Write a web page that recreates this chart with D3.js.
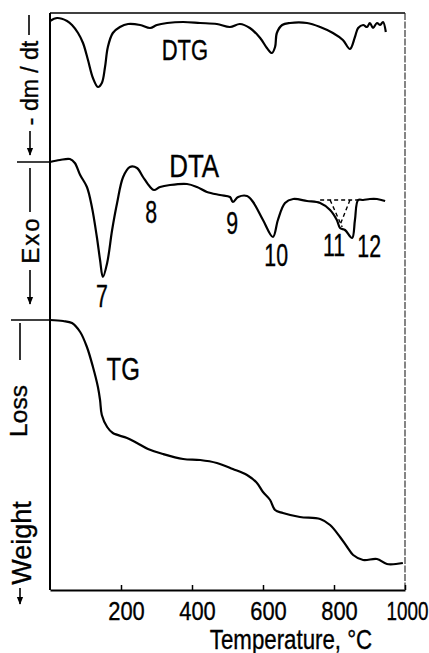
<!DOCTYPE html>
<html>
<head>
<meta charset="utf-8">
<script src="https://cdn.jsdelivr.net/npm/d3@7.9.0/dist/d3.min.js"></script>
<style>
  body { margin: 0; background: #fff; }
  svg { display: block; }
  text { font-family: "Liberation Sans", Arial, sans-serif; fill: #000; stroke: #000; stroke-width: 0.35; }
</style>
</head>
<body>
<svg id="chart" width="429" height="653"></svg>
<script>
// temperature (°C) and signal values (arbitrary units)
const dtgTemp = [0, 20, 48, 62, 79, 93, 107, 121, 135, 146, 155, 163, 177, 197, 220, 254, 282, 301, 330, 375, 423, 470, 507, 535, 563, 592, 611, 625, 634, 639, 654, 676, 724, 761, 797, 825, 845, 859, 868, 882, 893, 901, 910, 921, 930, 938, 946];
const dtgValue = [1, 4, 1, -3, -11, -21, -38, -56, -65, -61, -45, -25, -11, -5, -2, -3, -6, -3, -1, 0, -1, -2, -5, -2, -6, -16, -26, -31, -25, -11, -3, -1, -1, -5, -11, -18, -27, -15, -6, -3, -5, -1, -6, -1, -3, 0, -10];

const dtaTemp = [0, 28, 56, 70, 85, 104, 118, 132, 141, 149, 161, 175, 189, 206, 225, 245, 262, 282, 293, 310, 338, 386, 414, 442, 479, 507, 515, 530, 555, 572, 600, 628, 642, 662, 685, 724, 761, 789, 808, 817, 831, 851, 859, 868, 882, 901, 921, 944];
const dtaValue = [0, 2, 3, -1, -13, -25, -45, -75, -98, -115, -101, -68, -41, -15, -5, -6, -15, -25, -28, -25, -23, -22, -25, -30, -33, -35, -40, -35, -34, -40, -58, -75, -58, -41, -37, -39, -41, -48, -58, -66, -68, -76, -58, -38, -38, -37, -37, -39];

const tgTemp = [0, 37, 62, 85, 104, 121, 135, 141, 146, 161, 177, 217, 245, 276, 318, 375, 423, 470, 515, 555, 583, 600, 620, 634, 656, 704, 761, 789, 817, 837, 854, 882, 921, 949, 994];
const tgValue = [0, -1, -3, -12, -27, -47, -67, -80, -95, -107, -113, -118, -123, -129, -134, -139, -140, -143, -149, -155, -163, -172, -180, -190, -193, -197, -199, -205, -217, -227, -235, -240, -239, -244, -243];

// dashed construction lines separating peaks 11 and 12 on the DTA curve
const dtaDashed = [
  [[761, -38], [870, -38]],
  [[789, -38], [823, -65]],
  [[845, -38], [817, -63]]
];

const tempTicks = [200, 400, 600, 800, 1000];
const peakLabels = ["7", "8", "9", "10", "11", "12"];
const peakTemp = [146, 285, 513, 637, 800, 899];
const peakValue = [-134, -50, -61, -93, -83, -84];

const svg = d3.select("#chart");
const frameL = 50, frameR = 405, frameT = 13, frameB = 590;

const x = d3.scaleLinear().domain([0, 1000]).range([frameL, frameR]);
const yDTG = d3.scaleLinear().domain([-80, 10]).range([102, 12]);
const yDTA = d3.scaleLinear().domain([-130, 10]).range([292, 152]);
const yTG = d3.scaleLinear().domain([-260, 10]).range([580, 310]);

svg.append("defs").append("marker")
  .attr("id", "head")
  .attr("viewBox", "0 0 10 10")
  .attr("refX", 9).attr("refY", 5)
  .attr("markerWidth", 5).attr("markerHeight", 6)
  .attr("orient", "auto")
  .append("path").attr("d", "M0,1L10,5L0,9Z").attr("fill", "#000");

// frame
svg.append("line").attr("x1", frameL).attr("x2", frameL).attr("y1", frameT).attr("y2", frameB)
  .attr("stroke", "#000").attr("stroke-width", 2);
svg.append("line").attr("x1", frameL).attr("x2", frameR).attr("y1", frameT).attr("y2", frameT)
  .attr("stroke", "#000").attr("stroke-width", 1.4);
svg.append("line").attr("x1", frameR).attr("x2", frameR).attr("y1", frameT).attr("y2", frameB)
  .attr("stroke", "#222").attr("stroke-width", 1.1).attr("stroke-dasharray", "7,1.5");

const xAxis = svg.append("g")
  .attr("transform", `translate(0,${frameB})`)
  .call(d3.axisBottom(x).tickValues(tempTicks).tickFormat(d3.format("d"))
    .tickSizeInner(-5).tickSizeOuter(0).tickPadding(12));
xAxis.attr("font-family", null).attr("font-size", null);
xAxis.select(".domain").attr("stroke-width", 2.2);
xAxis.selectAll(".tick line").attr("stroke-width", 1.5);
xAxis.selectAll("text").attr("font-size", 25.5)
  .attr("transform", d => d === 1000 ? "translate(2,0) scale(0.74,1)" : "translate(5,0) scale(0.86,1)");

// narrow lettering: scale text horizontally around its anchor
function label(txt, cx, cy, size, sx, rotated, spacing) {
  svg.append("text")
    .attr("transform", `translate(${cx},${cy})${rotated ? " rotate(-90)" : ""} scale(${sx},1)`)
    .attr("text-anchor", "middle").attr("dy", "0.36em")
    .attr("font-size", size).attr("letter-spacing", spacing || 0)
    .text(txt);
}

label("Temperature, °C", 291, 639, 27.5, 0.81);

// curves
function drawCurve(temps, values, y) {
  const line = d3.line().x((d, i) => x(temps[i])).y(d => y(d)).curve(d3.curveCatmullRom);
  svg.append("path").datum(values).attr("d", line)
    .attr("fill", "none").attr("stroke", "#000").attr("stroke-width", 2.2)
    .attr("stroke-linejoin", "round");
}
drawCurve(dtgTemp, dtgValue, yDTG);
drawCurve(dtaTemp, dtaValue, yDTA);
drawCurve(tgTemp, tgValue, yTG);

svg.selectAll(".dash").data(dtaDashed).join("line")
  .attr("x1", d => x(d[0][0])).attr("y1", d => yDTA(d[0][1]))
  .attr("x2", d => x(d[1][0])).attr("y2", d => yDTA(d[1][1]))
  .attr("stroke", "#000").attr("stroke-width", 1.4).attr("stroke-dasharray", "4,3");

// baseline markers at the left edge
svg.append("line").attr("x1", 17).attr("x2", frameL).attr("y1", yDTA(0)).attr("y2", yDTA(0))
  .attr("stroke", "#000").attr("stroke-width", 1.5);
svg.append("line").attr("x1", 11).attr("x2", frameL).attr("y1", yTG(0)).attr("y2", yTG(0))
  .attr("stroke", "#000").attr("stroke-width", 1.5);

// curve names and peak numbers
label("DTG", x(380), yDTG(-28), 29, 0.76);
label("DTA", x(406), yDTA(-4), 30.5, 0.85);
label("TG", x(206), yTG(-48), 32, 0.75);

peakLabels.forEach((p, i) => label(p, x(peakTemp[i]), yDTA(peakValue[i]), 30.5, 0.7));

// rotated y-axis captions with dashes and arrows
function vLine(cx, y1, y2, arrow) {
  const l = svg.append("line").attr("x1", cx).attr("x2", cx).attr("y1", y1).attr("y2", y2)
    .attr("stroke", "#000").attr("stroke-width", 1.6);
  if (arrow) l.attr("marker-end", "url(#head)");
}
vLine(29, 15, 35);
label("- dm / dt", 30, 83, 23, 1, true);
vLine(30, 131, 155, true);

vLine(30, 168, 212);
label("Exo", 30, 240, 24, 1, true, 2);
vLine(30, 270, 304, true);

vLine(20, 323, 360);
label("Loss", 18, 411, 24.5, 1, true);
label("Weight", 21, 543, 27, 1, true);
vLine(20, 588, 604, true);
</script>
</body>
</html>
